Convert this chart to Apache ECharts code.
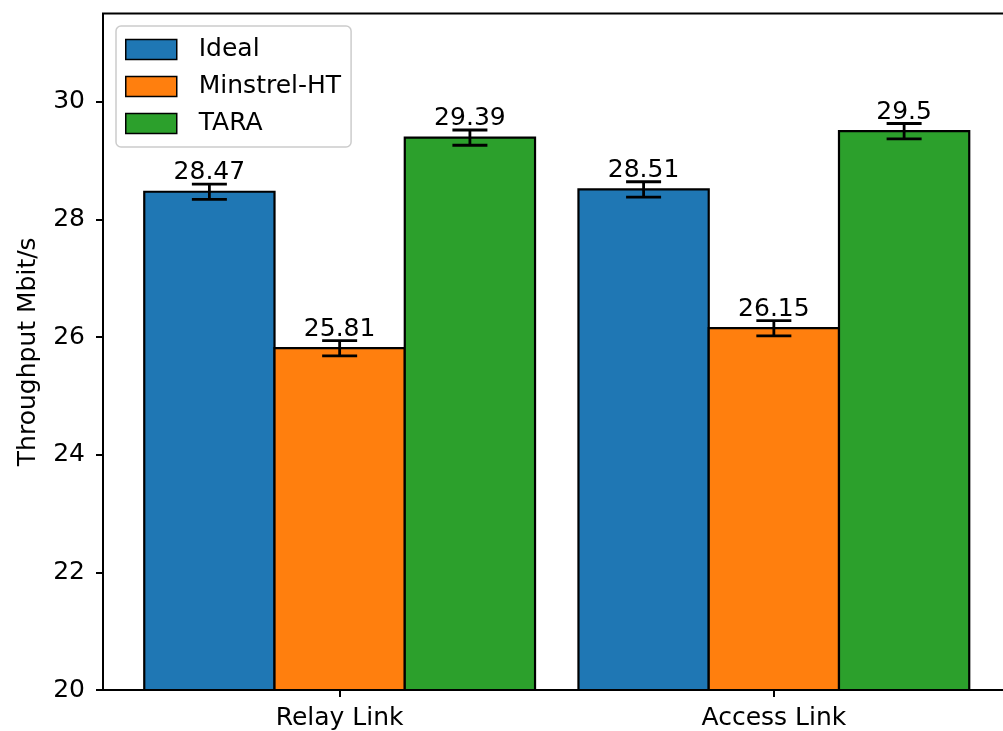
<!DOCTYPE html>
<html>
<head>
<meta charset="utf-8">
<title>Throughput per link</title>
<script src="https://cdn.jsdelivr.net/npm/echarts@6/dist/echarts.min.js"></script>
<style>
  html, body { margin: 0; padding: 0; background: #ffffff; }
  #chart { width: 1003px; height: 731px; }
</style>
</head>
<body>
<div id="chart"></div>
<script>
// Link types on the x axis
const categories = ['Relay Link', 'Access Link'];
// Rate-control schemes
const seriesNames = ['Ideal', 'Minstrel-HT', 'TARA'];
const seriesColors = ['#1f77b4', '#ff7f0e', '#2ca02c'];
// Mean throughput (Mbit/s) per link type
const idealValues = [28.47, 28.51];
const minstrelValues = [25.81, 26.15];
const taraValues = [29.39, 29.5];
// Error bar half-widths (Mbit/s)
const idealErrors = [0.13, 0.13];
const minstrelErrors = [0.13, 0.13];
const taraErrors = [0.13, 0.13];
// y axis range and step
const yMin = 20;
const yMax = 31.5;
const yStep = 2;

const seriesValues = [idealValues, minstrelValues, taraValues];
const seriesErrors = [idealErrors, minstrelErrors, taraErrors];

const FONT = '"DejaVu Sans", "Liberation Sans", sans-serif';
const FS = 25;
const BAR_W = 0.3;       // bar width in x-axis units
const CAP_HALF = 17.5;   // error bar cap half width, px

function makeRenderer(sIdx) {
  const offset = (sIdx - 1) * BAR_W;
  return function (params, api) {
    const x = api.value(0) + offset;
    const v = api.value(1);
    const e = api.value(2);
    const topLeft = api.coord([x - BAR_W / 2, v]);
    const botRight = api.coord([x + BAR_W / 2, yMin]);
    const c = api.coord([x, v]);
    const hi = api.coord([x, v + e]);
    const lo = api.coord([x, v - e]);
    const errStyle = { stroke: '#000', lineWidth: 2.8 };
    return {
      type: 'group',
      children: [
        {
          type: 'rect',
          shape: { x: topLeft[0], y: topLeft[1], width: botRight[0] - topLeft[0], height: botRight[1] - topLeft[1] },
          style: { fill: seriesColors[sIdx], stroke: '#000', lineWidth: 2.2 }
        },
        { type: 'line', shape: { x1: c[0], y1: hi[1], x2: c[0], y2: lo[1] }, style: errStyle, z2: 5 },
        { type: 'line', shape: { x1: c[0] - CAP_HALF, y1: hi[1], x2: c[0] + CAP_HALF, y2: hi[1] }, style: errStyle, z2: 5 },
        { type: 'line', shape: { x1: c[0] - CAP_HALF, y1: lo[1], x2: c[0] + CAP_HALF, y2: lo[1] }, style: errStyle, z2: 5 },
        {
          type: 'text',
          z2: 6,
          style: {
            text: String(v),
            x: c[0],
            y: hi[1] + 1,
            align: 'center',
            verticalAlign: 'bottom',
            font: FS + 'px ' + FONT,
            fill: '#000'
          }
        }
      ]
    };
  };
}

const series = seriesNames.map(function (name, sIdx) {
  return {
    type: 'custom',
    name: name,
    clip: false,
    itemStyle: { color: seriesColors[sIdx], borderColor: '#000', borderWidth: 1.5 },
    renderItem: makeRenderer(sIdx),
    encode: { x: 0, y: 1 },
    data: categories.map(function (_, i) {
      return [i, seriesValues[sIdx][i], seriesErrors[sIdx][i]];
    })
  };
});

const chart = echarts.init(document.getElementById('chart'), null, { renderer: 'canvas' });
chart.setOption({
  animation: false,
  backgroundColor: '#ffffff',
  textStyle: { fontFamily: FONT, color: '#000' },
  grid: {
    left: 103,
    width: 907.5,
    top: 13.5,
    height: 676.5,
    outerBoundsMode: 'none',
    containLabel: false,
    show: true,
    borderColor: '#000',
    borderWidth: 2,
    backgroundColor: 'transparent'
  },
  legend: {
    left: 116,
    top: 26,
    orient: 'vertical',
    padding: [11, 10, 11, 9],
    itemWidth: 51,
    itemHeight: 20,
    itemGap: 12,
    icon: 'rect',
    backgroundColor: 'rgba(255,255,255,0.8)',
    borderColor: '#cccccc',
    borderWidth: 1.5,
    borderRadius: 5,
    itemStyle: { borderColor: '#000', borderWidth: 1.5 },
    textStyle: { fontFamily: FONT, fontSize: FS, color: '#000', padding: [0, 0, 0, 17] },
    data: seriesNames
  },
  xAxis: {
    type: 'value',
    min: -0.545,
    max: 1.545,
    splitLine: { show: false },
    axisLine: { show: false, onZero: false },
    axisTick: { show: true, length: 7, lineStyle: { color: '#000', width: 2 }, customValues: [0, 1] },
    axisLabel: {
      customValues: [0, 1],
      margin: 16,
      fontSize: FS,
      fontFamily: FONT,
      color: '#000',
      formatter: function (val) { return categories[Math.round(val)]; }
    }
  },
  yAxis: {
    type: 'value',
    min: yMin,
    max: yMax,
    interval: yStep,
    name: 'Throughput Mbit/s',
    nameLocation: 'middle',
    nameGap: 62,
    nameTextStyle: { fontSize: FS, fontFamily: FONT, color: '#000' },
    splitLine: { show: false },
    axisLine: { show: false, onZero: false },
    axisTick: { show: true, length: 7, lineStyle: { color: '#000', width: 2 } },
    axisLabel: {
      margin: 18,
      fontSize: FS,
      fontFamily: FONT,
      color: '#000',
      showMaxLabel: false,
      formatter: function (val) { return val > 30 ? '' : String(val); }
    }
  },
  series: series
});
</script>
</body>
</html>
